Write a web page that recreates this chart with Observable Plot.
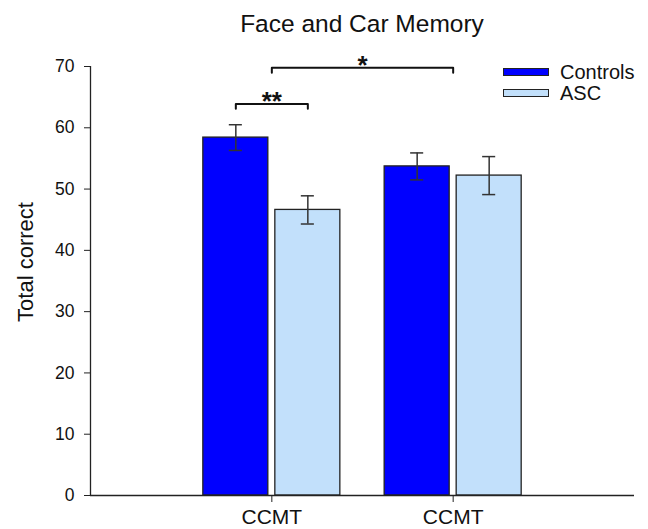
<!DOCTYPE html>
<html><head><meta charset="utf-8">
<script src="https://cdn.jsdelivr.net/npm/d3@7"></script>
<script src="https://cdn.jsdelivr.net/npm/@observablehq/plot@0.6"></script>
<style>
body{margin:0;background:#fff;font-family:"Liberation Sans",Arial,sans-serif;}
#wrap{position:relative;width:648px;height:529px;overflow:hidden;}
#title{height:40px;box-sizing:border-box;padding:12px 14px 0 90px;text-align:center;font-size:24.5px;line-height:1;color:#111;white-space:nowrap;}
#chart svg{display:block;}
.leg{position:absolute;left:503px;height:20px;display:flex;align-items:center;font-size:20px;line-height:20px;color:#111;}
.sw{width:46px;height:8px;border:1px solid #222;box-sizing:border-box;margin-right:11px;}
</style></head><body>
<div id="wrap"><div id="title"></div><div id="chart"></div></div>
<script>
const chartTitle = "Face and Car Memory";
const groups = ["CCMT", "CCMT"];
const seriesNames = ["Controls", "ASC"];
const controlsMean = [58.4, 53.7];
const controlsSE = [2.1, 2.2];
const ascMean = [46.6, 52.2];
const ascSE = [2.3, 3.1];
const seriesColors = ["#0000ff", "#c2e0fb"];
const yTicks = [0, 10, 20, 30, 40, 50, 60, 70];
const yLabel = "Total correct";
// significance brackets: ends given as [group, series] (series null = group centre)
const sigFrom = [[0, 0], [0, null]];
const sigTo = [[0, 1], [1, null]];
const sigLevel = [63.9, 69.8];
const sigLabel = ["**", "*"];

document.getElementById("title").textContent = chartTitle;

// layout in x-scale units (group i centred at i+1)
const barW = 0.3585, halfGap = 0.0193, capHalf = 0.036, drop = 0.8;
const barCenter = (g, s) => s === null ? g + 1 : g + 1 + (s === 0 ? -1 : 1) * (halfGap + barW / 2);

const means = [controlsMean, ascMean];
const ses = [controlsSE, ascSE];
const bars = [];
groups.forEach((gname, g) => {
  seriesNames.forEach((sname, s) => {
    const c = barCenter(g, s);
    bars.push({group: g, series: sname, x1: c - barW / 2, x2: c + barW / 2, xc: c,
      v: means[s][g], lo: means[s][g] - ses[s][g], hi: means[s][g] + ses[s][g]});
  });
});

const bracketPts = [];
const bracketLabels = [];
sigLabel.forEach((lab, i) => {
  const xa = barCenter(sigFrom[i][0], sigFrom[i][1]);
  const xb = barCenter(sigTo[i][0], sigTo[i][1]);
  const y = sigLevel[i];
  bracketPts.push({k: i, x: xa, y: y - drop}, {k: i, x: xa, y}, {k: i, x: xb, y}, {k: i, x: xb, y: y - drop});
  bracketLabels.push({x: (xa + xb) / 2, y, label: lab});
});

const plot = Plot.plot({
  width: 648, height: 489,
  marginTop: 26, marginBottom: 34, marginLeft: 90, marginRight: 14,
  style: {fontFamily: "'Liberation Sans', Arial, sans-serif", color: "#111", background: "transparent", overflow: "visible"},
  x: {domain: [0, 3]},
  y: {domain: [0, 70]},
  color: {domain: seriesNames, range: seriesColors},
  marks: [
    Plot.rect(bars, {x1: "x1", x2: "x2", y1: 0, y2: "v", fill: "series", stroke: "#222", strokeWidth: 1.3}),
    Plot.ruleX(bars, {x: "xc", y1: "lo", y2: "hi", stroke: "#333", strokeWidth: 1.5}),
    Plot.ruleY(bars, {x1: d => d.xc - capHalf, x2: d => d.xc + capHalf, y: "hi", stroke: "#333", strokeWidth: 1.5}),
    Plot.ruleY(bars, {x1: d => d.xc - capHalf, x2: d => d.xc + capHalf, y: "lo", stroke: "#333", strokeWidth: 1.5}),
    Plot.line(bracketPts, {x: "x", y: "y", z: "k", stroke: "#111", strokeWidth: 2}),
    Plot.text(bracketLabels, {x: "x", y: "y", text: "label", lineAnchor: "bottom", dy: 6, fontSize: 26, fontWeight: "bold", fill: "#111"}),
    Plot.ruleY([0], {stroke: "#222", strokeWidth: 1.3}),
    Plot.ruleX([0], {stroke: "#222", strokeWidth: 1.3}),
    Plot.axisY({ticks: yTicks, tickSize: 6, tickPadding: 10, fontSize: 17.5, label: null, stroke: "#222"}),
    Plot.axisX({ticks: [1, 2], tickFormat: d => groups[d - 1], tickSize: 7, tickPadding: 7, fontSize: 21, label: null, stroke: "#222"}),
    Plot.text([yLabel], {frameAnchor: "left", textAnchor: "middle", rotate: -90, dx: -65, dy: -19, fontSize: 22, fill: "#111"})
  ]
});
document.getElementById("chart").appendChild(plot);

// legend
const wrap = document.getElementById("wrap");
seriesNames.forEach((name, i) => {
  const row = document.createElement("div");
  row.className = "leg";
  row.style.top = (62 + i * 21) + "px";
  const sw = document.createElement("div");
  sw.className = "sw";
  sw.style.background = seriesColors[i];
  const t = document.createElement("span");
  t.textContent = name;
  row.appendChild(sw); row.appendChild(t);
  wrap.appendChild(row);
});
</script>
</body></html>
